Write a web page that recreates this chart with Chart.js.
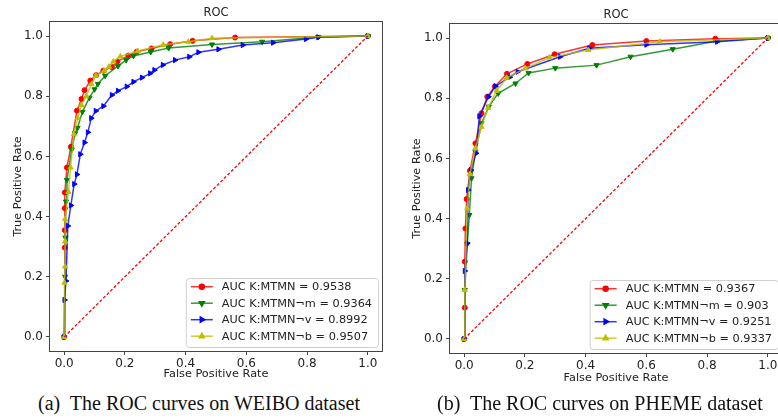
<!DOCTYPE html>
<html>
<head>
<meta charset="utf-8">
<script src="https://cdn.jsdelivr.net/npm/chart.js@4"></script>
<style>
  body { margin: 0; width: 778px; height: 419px; overflow: hidden; background: #fff; position: relative; }
  canvas { position: absolute; top: 0; }
  #weibo { left: 0; }
  #pheme { left: 389px; }
  .cap { position: absolute; top: 391px; font-family: "Liberation Serif", "Times New Roman", serif; font-size: 20px; line-height: 24px; white-space: pre; color: #111; }
</style>
</head>
<body>
<canvas id="weibo" width="389" height="390"></canvas>
<canvas id="pheme" width="400" height="392"></canvas>
<div class="cap" style="left:38px">(a)  The ROC curves on WEIBO dataset</div>
<div class="cap" style="left:437px">(b)  The ROC curves on PHEME dataset</div>
<script>
const xTicks = [0, 0.2, 0.4, 0.6, 0.8, 1.0];
const yTicks = [0, 0.2, 0.4, 0.6, 0.8, 1.0];
const modelNames = ['K:MTMN', 'K:MTMN¬m', 'K:MTMN¬v', 'K:MTMN¬b'];
const weiboAuc = [0.9538, 0.9364, 0.8992, 0.9507];
const phemeAuc = [0.9367, 0.903, 0.9251, 0.9337];

// WEIBO curves (false positive rate / true positive rate)
const weiboFprFull = [0, 0.002, 0.002, 0.002, 0.002, 0.009, 0.022, 0.042, 0.057, 0.067, 0.086, 0.105, 0.129, 0.157, 0.175, 0.211, 0.239, 0.288, 0.349, 0.423, 0.563, 1];
const weiboTprFull = [0, 0.297, 0.355, 0.428, 0.48, 0.563, 0.632, 0.752, 0.791, 0.82, 0.852, 0.87, 0.885, 0.897, 0.915, 0.935, 0.948, 0.959, 0.973, 0.984, 0.995, 1];
const weiboFprNoM = [0, 0.003, 0.004, 0.006, 0.009, 0.025, 0.036, 0.044, 0.06, 0.083, 0.1, 0.111, 0.135, 0.177, 0.204, 0.228, 0.285, 0.344, 0.487, 0.652, 0.837, 1];
const weiboTprNoM = [0, 0.2, 0.33, 0.45, 0.522, 0.623, 0.677, 0.695, 0.748, 0.795, 0.823, 0.841, 0.868, 0.9, 0.92, 0.934, 0.947, 0.96, 0.972, 0.981, 0.997, 1];
const weiboFprNoV = [0, 0.001, 0.006, 0.012, 0.022, 0.033, 0.042, 0.053, 0.067, 0.078, 0.089, 0.104, 0.129, 0.157, 0.177, 0.206, 0.228, 0.256, 0.283, 0.297, 0.325, 0.365, 0.412, 0.442, 0.508, 0.588, 0.688, 0.796, 0.837, 1];
const weiboTprNoV = [0, 0.123, 0.186, 0.369, 0.437, 0.508, 0.54, 0.607, 0.646, 0.68, 0.727, 0.751, 0.767, 0.804, 0.818, 0.832, 0.848, 0.862, 0.876, 0.887, 0.904, 0.92, 0.931, 0.946, 0.956, 0.97, 0.978, 0.99, 0.996, 1];
const weiboFprNoB = [0, 0.001, 0.003, 0.003, 0.003, 0.014, 0.021, 0.032, 0.045, 0.057, 0.073, 0.09, 0.104, 0.132, 0.148, 0.162, 0.185, 0.242, 0.326, 0.409, 0.487, 1];
const weiboTprNoB = [0, 0.18, 0.234, 0.317, 0.392, 0.482, 0.563, 0.674, 0.727, 0.771, 0.8, 0.84, 0.868, 0.885, 0.898, 0.915, 0.932, 0.95, 0.971, 0.981, 0.993, 1];

// PHEME curves
const phemeFprFull = [0, 0.002, 0.002, 0.004, 0.008, 0.019, 0.037, 0.057, 0.076, 0.101, 0.141, 0.208, 0.298, 0.422, 0.6, 0.827, 1];
const phemeTprFull = [0, 0.104, 0.257, 0.367, 0.465, 0.559, 0.65, 0.75, 0.805, 0.839, 0.881, 0.914, 0.946, 0.977, 0.99, 0.998, 1];
const phemeFprNoM = [0, 0.002, 0.01, 0.017, 0.024, 0.037, 0.057, 0.081, 0.112, 0.169, 0.212, 0.3, 0.436, 0.548, 0.687, 0.833, 1];
const phemeTprNoM = [0, 0.163, 0.315, 0.412, 0.534, 0.622, 0.717, 0.772, 0.816, 0.849, 0.884, 0.9, 0.91, 0.938, 0.963, 0.99, 1];
const phemeFprNoV = [0, 0.002, 0.01, 0.013, 0.022, 0.039, 0.05, 0.08, 0.103, 0.15, 0.176, 0.316, 0.412, 0.6, 0.833, 1];
const phemeTprNoV = [0, 0.226, 0.318, 0.495, 0.561, 0.617, 0.74, 0.805, 0.84, 0.87, 0.888, 0.938, 0.966, 0.978, 0.988, 1];
const phemeFprNoB = [0, 0.002, 0.01, 0.019, 0.037, 0.057, 0.079, 0.107, 0.14, 0.202, 0.281, 0.409, 0.644, 1];
const phemeTprNoB = [0, 0.163, 0.434, 0.548, 0.633, 0.705, 0.768, 0.825, 0.868, 0.899, 0.935, 0.96, 0.988, 1];

const diagX = [0, 1];
const diagY = [0, 1];

const lineColors = ['rgba(255,0,0,0.8)', 'rgba(0,128,0,0.8)', 'rgba(0,0,255,0.8)', 'rgba(191,191,0,0.8)'];
const markerColors = ['#ff0000', '#008000', '#0000ff', '#bfbf00'];
const markerStyles = ['circle', 'triangle', 'triangle', 'triangle'];
const markerRotation = [0, 180, 90, 0];
const markerRadius = [2.5, 3, 3, 3];

Chart.defaults.font.family = 'DejaVu Sans';
Chart.defaults.color = '#222';

function toPoints(xs, ys) {
  return xs.map((x, i) => ({ x: x, y: ys[i] }));
}

const frameAndText = {
  id: 'frameAndText',
  afterDraw(chart) {
    const ctx = chart.ctx;
    const a = chart.chartArea;
    const o = chart.options.plugins.frameAndText;
    ctx.save();
    // axes frame
    ctx.strokeStyle = '#444';
    ctx.lineWidth = 1;
    ctx.strokeRect(a.left + 0.5, a.top + 0.5, a.right - a.left - 1, a.bottom - a.top - 1);
    // title
    ctx.fillStyle = '#222';
    ctx.font = '11.5px "DejaVu Sans"';
    ctx.textAlign = 'center';
    ctx.textBaseline = 'middle';
    ctx.fillText('ROC', (a.left + a.right) / 2, a.top - 8);
    // legend in lower right corner
    ctx.font = '11.3px "DejaVu Sans"';
    const labels = o.labels;
    let tw = 0;
    labels.forEach(l => { tw = Math.max(tw, ctx.measureText(l).width); });
    const bw = 5 + 22 + 9 + tw + 6;
    const bh = 69;
    const bx = a.right - 5 - bw;
    const by = a.bottom - 5 - bh;
    ctx.beginPath();
    ctx.roundRect(bx + 0.5, by + 0.5, bw, bh, 3);
    ctx.fillStyle = 'rgba(255,255,255,0.8)';
    ctx.fill();
    ctx.strokeStyle = '#d0d0d0';
    ctx.stroke();
    labels.forEach((l, i) => {
      const cy = by + 8.7 + i * 16.5;
      ctx.strokeStyle = lineColors[i];
      ctx.lineWidth = 1.5;
      ctx.beginPath();
      ctx.moveTo(bx + 5, cy);
      ctx.lineTo(bx + 27, cy);
      ctx.stroke();
      ctx.fillStyle = markerColors[i];
      ctx.strokeStyle = markerColors[i];
      Chart.helpers.drawPoint(ctx, { pointStyle: markerStyles[i], rotation: markerRotation[i], radius: markerRadius[i], borderWidth: 1 }, bx + 16, cy);
      ctx.fillStyle = '#222';
      ctx.textAlign = 'left';
      ctx.fillText(l, bx + 36, cy + 0.5);
    });
    ctx.restore();
  }
};

function makeRoc(id, fprs, tprs, aucs, yw, padTop, yTitlePad, xTitlePad) {
  const datasets = fprs.map((xs, i) => ({
    data: toPoints(xs, tprs[i]),
    borderColor: lineColors[i],
    backgroundColor: markerColors[i],
    pointBorderColor: markerColors[i],
    borderWidth: 1.5,
    pointStyle: markerStyles[i],
    pointRotation: markerRotation[i],
    pointRadius: markerRadius[i],
    pointBorderWidth: 1,
    tension: 0,
    order: 4 - i
  }));
  datasets.push({
    data: toPoints(diagX, diagY),
    borderColor: '#ff0000',
    borderWidth: 1.3,
    borderDash: [3, 2],
    pointRadius: 0,
    order: 0
  });
  return new Chart(document.getElementById(id), {
    type: 'line',
    data: { datasets: datasets },
    plugins: [frameAndText],
    options: {
      responsive: false,
      animation: false,
      layout: { padding: { left: 0, right: 6, top: padTop, bottom: 0 } },
      plugins: {
        legend: { display: false },
        tooltip: { enabled: false },
        frameAndText: { labels: modelNames.map((n, i) => 'AUC ' + n + ' = ' + aucs[i]) }
      },
      scales: {
        x: {
          type: 'linear',
          min: -0.05,
          max: 1.05,
          afterBuildTicks: s => { s.ticks = xTicks.map(v => ({ value: v })); },
          afterFit: s => { s.height = 38; },
          ticks: { font: { size: 12 }, padding: 2, maxRotation: 0, callback: v => v.toFixed(1) },
          grid: { drawOnChartArea: false, drawTicks: true, tickLength: 3, color: '#444' },
          border: { display: false },
          title: { display: true, text: 'False Positive Rate', font: { size: 11.3 }, padding: { top: 0, bottom: xTitlePad } }
        },
        y: {
          type: 'linear',
          min: -0.05,
          max: 1.05,
          afterBuildTicks: s => { s.ticks = yTicks.map(v => ({ value: v })); },
          afterFit: s => { s.width = yw; },
          ticks: { font: { size: 12 }, padding: 3, callback: v => v.toFixed(1) },
          grid: { drawOnChartArea: false, drawTicks: true, tickLength: 3, color: '#444' },
          border: { display: false },
          title: { display: true, text: 'True Positive Rate', font: { size: 11.3 }, padding: { top: yTitlePad, bottom: 0 } }
        }
      }
    }
  });
}

makeRoc('weibo',
  [weiboFprFull, weiboFprNoM, weiboFprNoV, weiboFprNoB],
  [weiboTprFull, weiboTprNoM, weiboTprNoV, weiboTprNoB],
  weiboAuc, 49, 21, 11.4, 8.7);

makeRoc('pheme',
  [phemeFprFull, phemeFprNoM, phemeFprNoV, phemeFprNoB],
  [phemeTprFull, phemeTprNoM, phemeTprNoV, phemeTprNoB],
  phemeAuc, 60, 23, 21.4, 7.4);
</script>
</body>
</html>
